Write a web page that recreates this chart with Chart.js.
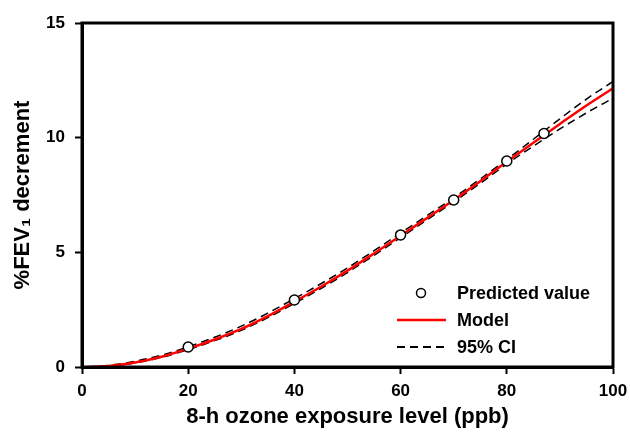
<!DOCTYPE html>
<html>
<head>
<meta charset="utf-8">
<script src="https://cdn.jsdelivr.net/npm/chart.js@4.4.0/dist/chart.umd.min.js"></script>
<style>
  html, body { margin: 0; padding: 0; background: #fff; }
  #wrap { width: 630px; height: 432px; }
</style>
</head>
<body>
<div id="wrap"><canvas id="fev"></canvas></div>
<script>
// ozone level (ppb) and model curve
var curveX = [1, 5, 10, 15, 20, 25, 30, 35, 40, 45, 50, 55, 60, 65, 70, 75, 80, 85, 90, 95, 100];
var modelY = [0, 0.04, 0.2, 0.45, 0.8, 1.2, 1.66, 2.22, 2.85, 3.5, 4.2, 4.95, 5.72, 6.5, 7.28, 8.1, 8.95, 9.78, 10.6, 11.4, 12.15];
var upperY = [0, 0.07, 0.25, 0.52, 0.88, 1.3, 1.78, 2.35, 2.98, 3.63, 4.32, 5.07, 5.84, 6.61, 7.38, 8.2, 9.05, 9.93, 10.82, 11.68, 12.45];
var lowerY = [0, 0.03, 0.18, 0.42, 0.76, 1.15, 1.6, 2.15, 2.77, 3.42, 4.12, 4.87, 5.64, 6.42, 7.2, 8.01, 8.85, 9.63, 10.38, 11.08, 11.72];

// predicted values
var predX = [20, 40, 60, 70, 80, 87];
var predY = [0.87, 2.92, 5.76, 7.28, 8.98, 10.18];

var xTicks = [0, 20, 40, 60, 80, 100];
var yTicks = [0, 5, 10, 15];

function pts(xs, ys) {
    return xs.map(function(x, i) { return { x: x, y: ys[i] }; });
}

var FONT = "'Liberation Sans', Arial, sans-serif";

var frameLegend = {
    id: 'frameLegend',
    afterDraw: function(chart) {
        var ctx = chart.ctx;
        var a = chart.chartArea;
        ctx.save();
        // box around plot
        ctx.strokeStyle = '#000';
        ctx.lineWidth = 3;
        ctx.strokeRect(a.left, a.top, a.right - a.left, a.bottom - a.top);

        // legend
        var lx = a.left + 315, tx = a.left + 375;
        var rows = [a.top + 270, a.top + 297, a.top + 324];
        ctx.font = 'bold 18px ' + FONT;
        ctx.fillStyle = '#000';
        ctx.textBaseline = 'middle';
        ctx.textAlign = 'left';
        ctx.fillText('Predicted value', tx, rows[0] + 1);
        ctx.fillText('Model', tx, rows[1] + 1);
        ctx.fillText('95% CI', tx, rows[2] + 1);

        ctx.beginPath();
        ctx.arc(lx + 24, rows[0], 4.5, 0, Math.PI * 2);
        ctx.fillStyle = '#fff';
        ctx.fill();
        ctx.lineWidth = 1.5;
        ctx.strokeStyle = '#000';
        ctx.stroke();

        ctx.beginPath();
        ctx.moveTo(lx, rows[1]);
        ctx.lineTo(lx + 49, rows[1]);
        ctx.strokeStyle = '#ff0000';
        ctx.lineWidth = 2.5;
        ctx.stroke();

        ctx.beginPath();
        ctx.setLineDash([8, 5]);
        ctx.moveTo(lx, rows[2]);
        ctx.lineTo(lx + 49, rows[2]);
        ctx.strokeStyle = '#000';
        ctx.lineWidth = 1.8;
        ctx.stroke();
        ctx.restore();
    }
};

var config = {
    type: 'scatter',
    data: {
        datasets: [{
            label: 'Predicted value',
            data: pts(predX, predY),
            pointRadius: 5,
            pointBackgroundColor: '#fff',
            pointBorderColor: '#000',
            pointBorderWidth: 1.5,
            showLine: false,
            order: 0
        }, {
            label: 'Model',
            data: pts(curveX, modelY),
            showLine: true,
            borderColor: '#ff0000',
            borderWidth: 2.5,
            pointRadius: 0,
            cubicInterpolationMode: 'monotone',
            order: 1
        }, {
            label: '95% CI',
            data: pts(curveX, upperY),
            showLine: true,
            borderColor: '#000',
            borderWidth: 1.5,
            borderDash: [8, 5],
            pointRadius: 0,
            cubicInterpolationMode: 'monotone',
            order: 2
        }, {
            label: '95% CI lower',
            data: pts(curveX, lowerY),
            showLine: true,
            borderColor: '#000',
            borderWidth: 1.5,
            borderDash: [8, 5],
            pointRadius: 0,
            cubicInterpolationMode: 'monotone',
            order: 2
        }]
    },
    options: {
        responsive: true,
        maintainAspectRatio: false,
        animation: false,
        layout: { padding: { left: 0, right: 17, top: 23, bottom: 0 } },
        plugins: {
            legend: { display: false },
            tooltip: { enabled: false }
        },
        scales: {
            x: {
                type: 'linear',
                min: 0,
                max: 100,
                afterBuildTicks: function(s) { s.ticks = xTicks.map(function(v) { return { value: v }; }); },
                afterFit: function(s) { s.height = 65; s.paddingLeft = 0; s.paddingRight = 0; },
                grid: { display: true, drawOnChartArea: false, drawTicks: true, tickLength: 7, tickWidth: 2, tickColor: '#000' },
                border: { display: true, color: '#000', width: 3 },
                ticks: { color: '#000', font: { family: FONT, size: 17, weight: 'bold' }, padding: 7, maxRotation: 0 },
                title: { display: true, text: '8-h ozone exposure level (ppb)', color: '#000', font: { family: FONT, size: 22, weight: 'bold' }, padding: { top: 2, bottom: 2 } }
            },
            y: {
                type: 'linear',
                min: 0,
                max: 15,
                afterBuildTicks: function(s) { s.ticks = yTicks.map(function(v) { return { value: v }; }); },
                afterFit: function(s) { s.width = 82; s.paddingTop = 0; s.paddingBottom = 0; },
                grid: { display: true, drawOnChartArea: false, drawTicks: true, tickLength: 7, tickWidth: 2, tickColor: '#000' },
                border: { display: true, color: '#000', width: 3 },
                ticks: { color: '#000', font: { family: FONT, size: 17, weight: 'bold' }, padding: 10 },
                title: { display: true, text: '%FEV\u2081 decrement', color: '#000', font: { family: FONT, size: 22, weight: 'bold' }, padding: { top: 10, bottom: 6 } }
            }
        }
    },
    plugins: [frameLegend]
};

window.onload = function() {
    var ctx = document.getElementById('fev').getContext('2d');
    window.fevChart = new Chart(ctx, config);
};
</script>
</body>
</html>
